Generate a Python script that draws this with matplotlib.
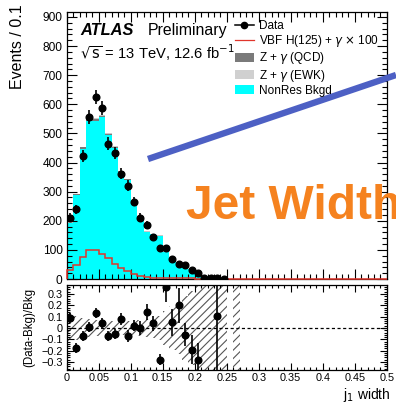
import numpy as np
import matplotlib
matplotlib.use("Agg")
import matplotlib.pyplot as plt
from matplotlib.lines import Line2D
from matplotlib.patches import Patch
from matplotlib.ticker import MultipleLocator

plt.rcParams["font.family"] = ["Liberation Sans", "DejaVu Sans"]
plt.rcParams["hatch.linewidth"] = 0.8

# j1 width, 0.01 bins
bin_width = 0.01
data = [211, 240, 424, 556, 625, 587, 465, 434, 361, 321, 266, 211, 187,
        144, 108, 105, 70, 51, 48, 30, 19, 3, 2, 2, 1]
nonres = [192, 288, 448, 544, 544, 555, 493, 450, 367, 340, 258, 214, 161,
          154, 148, 93, 65, 43, 49, 36, 26, 9, 3]
zg_qcd = [2, 3, 4, 5, 5, 5, 4, 4, 3, 3, 2, 2, 2, 1, 1, 1, 1, 1, 1, 0, 0, 0, 0]
zg_ewk = [1, 2, 3, 3, 3, 3, 3, 3, 2, 2, 2, 1, 1, 1, 1, 1, 1, 0, 0, 0, 0, 0, 0]
vbf_x100 = [32, 48, 75, 98, 98, 85, 73, 53, 38, 27, 18, 10, 7, 5, 4, 3, 3,
            2, 2, 2, 1, 1, 1, 1, 1]

ratio = [0.09, -0.18, -0.07, 0.01, 0.13, 0.04, -0.07, -0.05, 0.08, -0.07,
         0.02, 0.0, 0.14, 0.04, -0.28, 0.36, 0.05, 0.20, -0.06, -0.19, -0.28,
         np.nan, np.nan, 0.11, np.nan]
ratio_err = [0.045, 0.045, 0.045, 0.045, 0.045, 0.045, 0.045, 0.045, 0.05,
             0.05, 0.05, 0.06, 0.07, 0.07, 0.05, 0.13, 0.12, 0.155, 0.10,
             0.125, 0.15, np.nan, np.nan, 1.0, np.nan]
bkg_unc = [0.13, 0.11, 0.09, 0.08, 0.07, 0.065, 0.06, 0.06, 0.06, 0.06, 0.065,
           0.07, 0.08, 0.09, 0.11, 0.15, 0.19, 0.23, 0.28, 0.33, 0.39,
           1.0, 1.0, 1.0, 1.0, 0.0, 1.0]

n_bins = 50
edges = np.arange(n_bins + 1) * bin_width


def padded(vals):
    out = np.zeros(n_bins)
    out[:len(vals)] = vals
    return out


nr = padded(nonres)
qcd = padded(zg_qcd)
ewk = padded(zg_ewk)
vbf = padded(vbf_x100)
centers = (edges[:-1] + edges[1:]) / 2

fig = plt.figure(figsize=(3.96, 4.03), dpi=100)
W, H = 396.0, 403.0
ax = fig.add_axes([66.7 / W, 1 - 279 / H, 320 / W, 267 / H])
rax = fig.add_axes([66.7 / W, 1 - 370 / H, 320 / W, 85 / H])

# stacked backgrounds
ax.bar(edges[:-1], nr, width=bin_width, align="edge", color="#00ffff",
       linewidth=0)
ax.bar(edges[:-1], qcd, bottom=nr, width=bin_width, align="edge",
       color="#7a7a7a", linewidth=0)
ax.bar(edges[:-1], ewk, bottom=nr + qcd, width=bin_width, align="edge",
       color="#c8c8c8", linewidth=0)

# signal x100
ax.stairs(vbf, edges, color="#e0352b", linewidth=1.1, zorder=3,
          clip_on=False)

nd = len(data)
ax.errorbar(centers[:nd], data, yerr=np.sqrt(data), fmt="o", color="black",
            markersize=4.8, elinewidth=1.2, capsize=0, zorder=4)

ax.set_xlim(0, 0.5)
ax.set_ylim(0, 917)
ax.yaxis.set_major_locator(MultipleLocator(100))
ax.yaxis.set_minor_locator(MultipleLocator(20))
ax.xaxis.set_major_locator(MultipleLocator(0.05))
ax.xaxis.set_minor_locator(MultipleLocator(0.01))
ax.tick_params(labelbottom=False)

# ratio panel
unc = np.array(bkg_unc)
rax.bar(edges[:len(bkg_unc)], 2 * unc, bottom=-unc, width=bin_width,
        align="edge", facecolor="none", edgecolor="#555555", hatch="////",
        linewidth=0)
rax.axhline(0, color="black", linestyle=(0, (2.5, 2)), linewidth=0.9)
rax.errorbar(centers[:nd], ratio, yerr=ratio_err, fmt="o", color="black",
             markersize=4.8, elinewidth=1.2, capsize=0, zorder=4)
rax.set_xlim(0, 0.5)
rax.set_ylim(-0.371, 0.3795)
rax.yaxis.set_minor_locator(MultipleLocator(0.02))
rax.xaxis.set_minor_locator(MultipleLocator(0.01))
rax.set_xticks([0, 0.05, 0.1, 0.15, 0.2, 0.25, 0.3, 0.35, 0.4, 0.45, 0.5])
rax.set_xticklabels(["0", "0.05", "0.1", "0.15", "0.2", "0.25", "0.3",
                     "0.35", "0.4", "0.45", "0.5"])
rax.set_yticks([-0.3, -0.2, -0.1, 0, 0.1, 0.2, 0.3])
rax.set_yticklabels(["\u22120.3", "\u22120.2", "\u22120.1", "0", "0.1",
                     "0.2", "0.3"])

for a, major_len, lsize in ((ax, 7, 8.6), (rax, 5, 7.8)):
    a.tick_params(which="both", direction="in", top=True, right=True,
                  labelsize=lsize, colors="black", pad=3)
    a.tick_params(which="major", length=major_len, width=0.8)
    a.tick_params(which="minor", length=major_len / 2, width=0.8)
    for s in a.spines.values():
        s.set_linewidth(0.9)
rax.tick_params(axis="x", pad=2.5)

# axis titles
fig.text(18 / W, 1 - 4 / H, "Events / 0.1", rotation=90, ha="center",
         va="top", fontsize=11.5)
fig.text(29 / W, 1 - 327 / H, "(Data-Bkg)/Bkg", rotation=90, ha="center",
         va="center", fontsize=8.3)
fig.text(391 / W, 1 - 399 / H, r"j$_{1}$ width", ha="right",
         va="baseline", fontsize=10)

# experiment labels
ax.text(0.042, 0.929, "ATLAS", transform=ax.transAxes, fontsize=11.8,
        fontweight="bold", fontstyle="italic", va="center")
ax.text(0.254, 0.929, "Preliminary", transform=ax.transAxes, fontsize=11.4,
        va="center")
ax.text(0.042, 0.846, r"$\sqrt{\mathrm{s}}$ = 13 TeV, 12.6 fb$^{-1}$",
        transform=ax.transAxes, fontsize=10.6, va="center")

handles = [
    Line2D([], [], color="black", marker="o", markersize=4.5, linewidth=1.1),
    Line2D([], [], color="#e0352b", linewidth=0.9),
    Patch(facecolor="#7a7a7a", edgecolor="none"),
    Patch(facecolor="#d0d0d0", edgecolor="none"),
    Patch(facecolor="#00ffff", edgecolor="none"),
]
labels = ["Data", r"VBF H(125) + $\gamma$ $\times$ 100",
          r"Z + $\gamma$ (QCD)", r"Z + $\gamma$ (EWK)", "NonRes Bkgd"]
fig.legend(handles, labels, loc="upper left",
           bbox_to_anchor=(235 / W, 1 - 20 / H), frameon=False,
           fontsize=8.5, handlelength=1.6, handleheight=0.8,
           handletextpad=0.4, labelspacing=0.1, borderpad=0,
           borderaxespad=0)

# slide annotations
fig.add_artist(Line2D([148 / W, 396 / W], [1 - 159 / H, 1 - 75 / H],
                      color="#4d60c4", linewidth=4.6,
                      solid_capstyle="butt"))
fig.text(186 / W, 1 - 219 / H, "Jet Width", color="#f5821f",
         fontsize=34.5, fontweight="bold", ha="left", va="baseline")

fig.savefig("out.png", dpi=100)
